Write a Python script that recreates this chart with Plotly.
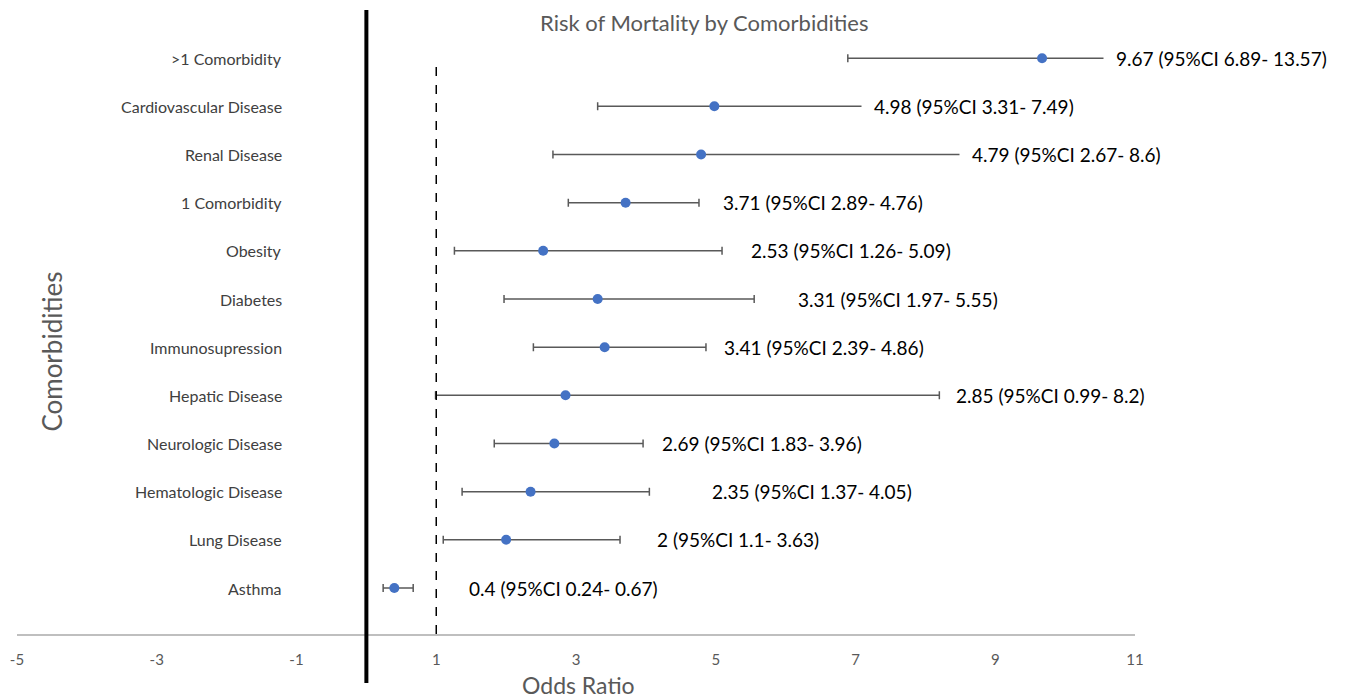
import plotly.graph_objects as go

# ---- data (bottom to top) ----
categories = ["Asthma", "Lung Disease", "Hematologic Disease", "Neurologic Disease",
              "Hepatic Disease", "Immunosupression", "Diabetes", "Obesity",
              "1 Comorbidity", "Renal Disease", "Cardiovascular Disease", ">1 Comorbidity"]
odds_ratio = [0.4, 2, 2.35, 2.69, 2.85, 3.41, 3.31, 2.53, 3.71, 4.79, 4.98, 9.67]
ci_low = [0.24, 1.1, 1.37, 1.83, 0.99, 2.39, 1.97, 1.26, 2.89, 2.67, 3.31, 6.89]
ci_high = [0.67, 3.63, 4.05, 3.96, 8.2, 4.86, 5.55, 5.09, 4.76, 8.6, 7.49, 13.57]
x_ticks = [-5, -3, -1, 1, 3, 5, 7, 9, 11]

# label placement (text left edge, in odds-ratio units)
label_x = [1.45, 4.14, 4.93, 4.21, 8.43, 5.11, 6.16, 5.49, 5.09, 8.66, 7.25, 10.71]

ypos = list(range(1, len(categories) + 1))
y_range = [0.045, 13]

fig = go.Figure()
fig.add_trace(go.Scatter(
    x=odds_ratio, y=ypos, mode="markers",
    marker=dict(color="#4472C4", size=10),
    error_x=dict(type="data", symmetric=False,
                 array=[h - o for h, o in zip(ci_high, odds_ratio)],
                 arrayminus=[o - l for o, l in zip(odds_ratio, ci_low)],
                 color="#595959", thickness=1.5, width=4),
    showlegend=False,
))

def fmt(v):
    return ("%g" % v)

annotations = []
for y, o, l, h, lx in zip(ypos, odds_ratio, ci_low, ci_high, label_x):
    annotations.append(dict(
        x=lx, y=y, xref="x", yref="y", xanchor="left", yanchor="middle",
        text=f"{fmt(o)} (95%CI {fmt(l)}- {fmt(h)})", showarrow=False,
        font=dict(family="Lato", size=19, color="#000000"),
        bgcolor="white", borderpad=12, xshift=-12,
    ))
for y, c in zip(ypos, categories):
    annotations.append(dict(
        x=-1.18, y=y, xref="x", yref="y", xanchor="right", yanchor="middle",
        text=c, showarrow=False,
        font=dict(family="Lato", size=16, color="#404040"),
    ))

annotations.append(dict(
    x=0.6145, y=1.003, xref="paper", yref="paper",
    xanchor="center", yanchor="top", text="Risk of Mortality by Comorbidities",
    showarrow=False, borderpad=0,
    font=dict(family="Lato", size=22, color="#595959")))
annotations.append(dict(
    x=0.502, y=-0.0817, xref="paper", yref="paper",
    xanchor="center", yanchor="middle", text="Odds Ratio",
    showarrow=False, font=dict(family="Lato", size=23, color="#595959")))
annotations.append(dict(
    x=0.031, y=0.452, xref="paper", yref="paper", textangle=-90,
    xanchor="center", yanchor="middle", text="Comorbidities",
    showarrow=False, font=dict(family="Lato", size=26, color="#595959")))

shapes = [
    dict(type="line", xref="x", yref="paper", x0=0, x1=0, y0=-0.0785, y1=1,
         line=dict(color="black", width=4)),
    dict(type="line", xref="x", yref="y", x0=1, x1=1, y0=y_range[0], y1=12,
         line=dict(color="black", width=1.5, dash="dash")),
]

fig.update_layout(
    width=1347, height=700,
    margin=dict(l=9, r=220, t=2, b=74),
    paper_bgcolor="white", plot_bgcolor="white",
    xaxis=dict(range=[-5, 11], tickvals=x_ticks, ticktext=[str(t) for t in x_ticks],
               showgrid=False, zeroline=False, showline=True, linecolor="#BFBFBF",
               linewidth=1.5, ticks="", ticklen=0,
               tickfont=dict(family="Lato", size=15, color="#595959"),
               ticklabelstandoff=11),
    yaxis=dict(range=y_range, showgrid=False, zeroline=False, showline=False,
               showticklabels=False, ticks=""),
    annotations=annotations,
    shapes=shapes,
)

fig.write_html("out.html")
